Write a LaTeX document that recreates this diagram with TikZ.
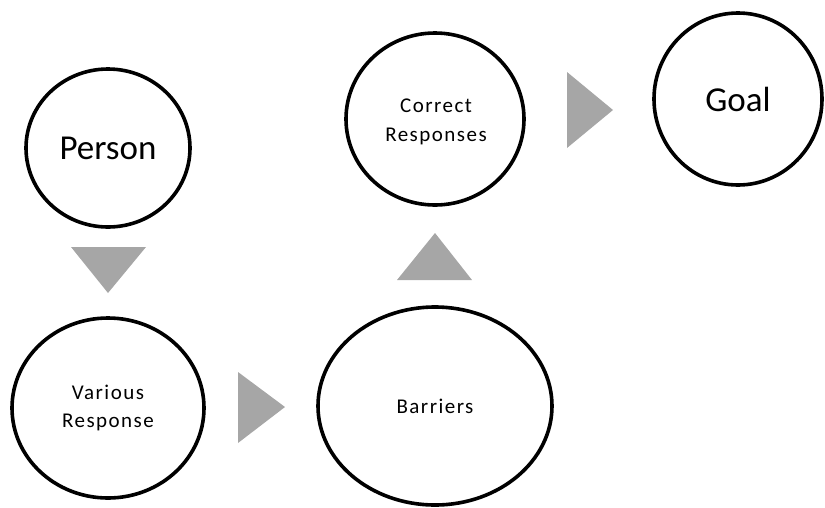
\documentclass[tikz,border=0pt]{standalone}
\usepackage{fontspec}
\setmainfont{Carlito}
\newfontfamily\smallfont[LetterSpace=7]{Carlito}
\usetikzlibrary{shapes.geometric}
\definecolor{trigray}{RGB}{166,166,166}
\tikzset{
  stage/.style={ellipse, draw=black, line width=3.6pt, fill=white, inner sep=0pt, align=center},
  bigtext/.style={font=\fontsize{35}{40}\selectfont},
  smalltext/.style={font=\smallfont\fontsize{21}{28.5}\selectfont, align=center},
  arrowtri/.style={fill=trigray, draw=none}
}
\begin{document}
\begin{tikzpicture}[x=1pt,y=-1pt]
\useasboundingbox (0,0) rectangle (825,507);
\node[stage, bigtext, minimum width=164pt, minimum height=158pt] (person) at (108,148) {Person};
\node[stage, smalltext, minimum width=192pt, minimum height=180pt] (various) at (108,408) {Various\\Response};
\node[stage, smalltext, minimum width=234pt, minimum height=198pt] (barriers) at (435,406) {Barriers};
\node[stage, minimum width=178pt, minimum height=172pt] (correct) at (435,119) {};
\node[smalltext] (correcttext) at (436,122) {Correct\\Responses};
\node[stage, bigtext, minimum width=168pt, minimum height=172pt] (goal) at (738,99) {Goal};
% arrow triangles
\coordinate (t1) at (108,247);
\coordinate (t2) at (238,407);
\coordinate (t3) at (435,280);
\coordinate (t4) at (567,110);
\fill[arrowtri] ([xshift=-37pt]t1) -- ([xshift=38pt]t1) -- ([yshift=-46pt]t1) -- cycle;
\fill[arrowtri] ([yshift=35pt]t2) -- ([yshift=-36pt]t2) -- ([xshift=47pt]t2) -- cycle;
\fill[arrowtri] ([xshift=-38pt]t3) -- ([xshift=37pt]t3) -- ([yshift=47pt]t3) -- cycle;
\fill[arrowtri] ([yshift=38pt]t4) -- ([yshift=-38pt]t4) -- ([xshift=46pt]t4) -- cycle;
\end{tikzpicture}
\end{document}
